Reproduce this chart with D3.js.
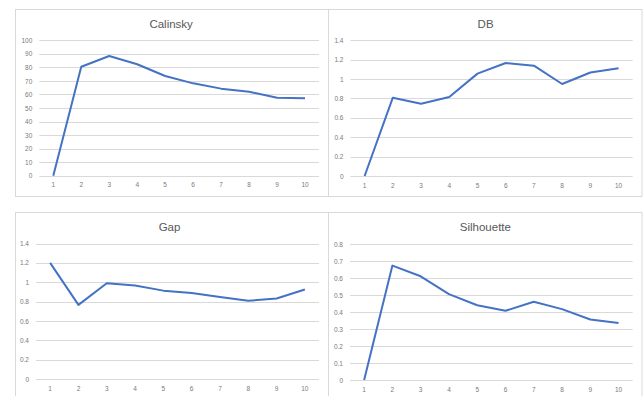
<!DOCTYPE html>
<html>
<head>
<meta charset="utf-8">
<script src="https://cdn.jsdelivr.net/npm/d3@7"></script>
<style>
  html, body { margin: 0; padding: 0; background: #fff; }
  svg { display: block; }
  text { font-family: "Liberation Sans", Arial, sans-serif; }
</style>
</head>
<body>
<svg id="chart" width="644" height="396"></svg>
<script>
// ---- Data ----
const categories = [1, 2, 3, 4, 5, 6, 7, 8, 9, 10];

const calinskyValues   = [0, 80.5, 88.4, 82.3, 73.6, 68.2, 64.3, 62.0, 57.6, 57.2];
const dbValues         = [0, 0.808, 0.746, 0.815, 1.056, 1.166, 1.138, 0.949, 1.068, 1.111];
const gapValues        = [1.2, 0.766, 0.99, 0.966, 0.913, 0.888, 0.848, 0.808, 0.832, 0.925];
const silhouetteValues = [0, 0.673, 0.61, 0.505, 0.44, 0.407, 0.46, 0.417, 0.356, 0.335];

const calinskyTicks   = [0, 10, 20, 30, 40, 50, 60, 70, 80, 90, 100];
const dbTicks         = [0, 0.2, 0.4, 0.6, 0.8, 1, 1.2, 1.4];
const gapTicks        = [0, 0.2, 0.4, 0.6, 0.8, 1, 1.2, 1.4];
const silhouetteTicks = [0, 0.1, 0.2, 0.3, 0.4, 0.5, 0.6, 0.7, 0.8];

const titles = ["Calinsky", "DB", "Gap", "Silhouette"];

// ---- Layout ----
const panels = [
  { title: titles[0], values: calinskyValues, ticks: calinskyTicks,
    frame: [15, 9, 328, 196], plot: [39.3, 40.3, 319, 175.7], titleY: 27.5 },
  { title: titles[1], values: dbValues, ticks: dbTicks,
    frame: [328, 9, 641.5, 196], plot: [350.5, 40.3, 632.7, 176], titleY: 27.5 },
  { title: titles[2], values: gapValues, ticks: gapTicks,
    frame: [15, 212, 328, 402], plot: [36, 243.5, 319, 379], titleY: 230.5 },
  { title: titles[3], values: silhouetteValues, ticks: silhouetteTicks,
    frame: [328, 212, 641.5, 402], plot: [350, 244, 632.7, 380], titleY: 230.8 }
];

const svg = d3.select("#chart");
const gridColor = "#d9d9d9";
const textColor = "#7a7a7a";
const lineColor = "#4472c4";

panels.forEach(p => {
  const [fx0, fy0, fx1, fy1] = p.frame;
  const [px0, py0, px1, py1] = p.plot;
  const g = svg.append("g");

  g.append("rect")
    .attr("x", fx0 + 0.5).attr("y", fy0 + 0.5)
    .attr("width", fx1 - fx0).attr("height", fy1 - fy0)
    .attr("fill", "#fff").attr("stroke", gridColor).attr("stroke-width", 1);

  const x = d3.scaleBand().domain(categories).range([px0, px1]).padding(0);
  const yMax = p.ticks[p.ticks.length - 1];
  const y = d3.scaleLinear().domain([0, yMax]).range([py1, py0]);

  // gridlines
  g.append("g").selectAll("line").data(p.ticks).join("line")
    .attr("x1", px0).attr("x2", px1)
    .attr("y1", d => Math.round(y(d)) + 0.5).attr("y2", d => Math.round(y(d)) + 0.5)
    .attr("stroke", gridColor).attr("stroke-width", 1);

  // y axis labels
  const yAxis = d3.axisLeft(y).tickValues(p.ticks).tickSize(0).tickPadding(7)
    .tickFormat(d => d3.format("~g")(d));
  const ya = g.append("g").attr("transform", `translate(${px0},0)`).call(yAxis);
  ya.select(".domain").remove();
  ya.selectAll("text").attr("fill", textColor).attr("font-size", "6.5px");

  // x axis labels
  const xAxis = d3.axisBottom(x).tickSize(0).tickPadding(7);
  const xa = g.append("g").attr("transform", `translate(0,${py1})`).call(xAxis);
  xa.select(".domain").remove();
  xa.selectAll("text").attr("fill", textColor).attr("font-size", "6.5px");

  // title
  g.append("text")
    .attr("x", (px0 + px1) / 2 + (p.frame[0] === 15 ? -8 : -6))
    .attr("y", p.titleY)
    .attr("text-anchor", "middle")
    .attr("fill", "#595959")
    .attr("font-size", "11.5px")
    .text(p.title);

  // line
  const line = d3.line()
    .x((d, i) => x(categories[i]) + x.bandwidth() / 2)
    .y(d => y(d));
  g.append("path").datum(p.values)
    .attr("d", line)
    .attr("fill", "none")
    .attr("stroke", lineColor)
    .attr("stroke-width", 2)
    .attr("stroke-linejoin", "round");
});
</script>
</body>
</html>
